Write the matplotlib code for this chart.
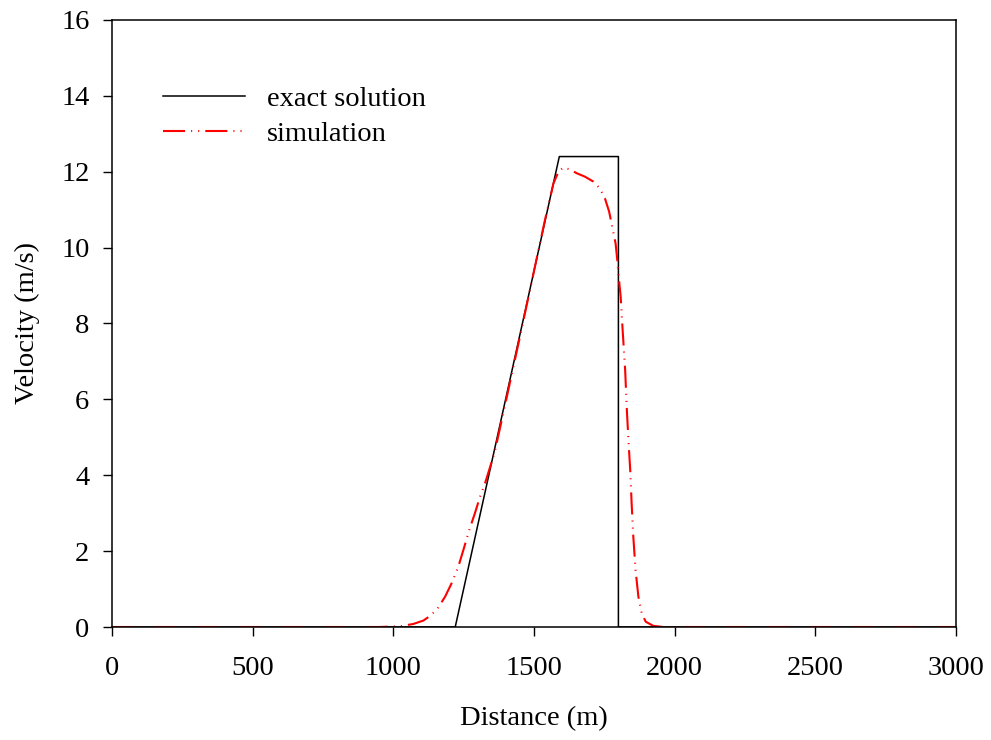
import matplotlib
matplotlib.use("Agg")
import matplotlib.pyplot as plt

plt.rcParams['font.family'] = ['Liberation Serif', 'DejaVu Serif']

# exact solution (piecewise linear)
exact_x = [0, 1220, 1590, 1800, 1800, 3000]
exact_v = [0, 0, 12.4, 12.4, 0, 0]

# simulation
sim_x = [0, 950, 1024, 1071, 1107, 1130, 1156, 1184, 1207, 1231, 1249, 1270, 1290,
         1308, 1326, 1360, 1400, 1450, 1497, 1539, 1569, 1587, 1604, 1628, 1652,
         1681, 1711, 1734, 1752, 1767, 1778, 1790, 1796, 1801, 1808, 1815, 1824,
         1830, 1837, 1842, 1847, 1853, 1861, 1871, 1883, 1897, 1924, 1960, 3000]
sim_v = [0, 0, 0.02, 0.08, 0.17, 0.29, 0.47, 0.80, 1.15, 1.59, 2.03, 2.56, 3.00,
         3.43, 3.79, 4.60, 5.95, 7.65, 9.28, 10.73, 11.69, 12.00, 12.11, 12.06, 11.96,
         11.87, 11.74, 11.56, 11.30, 10.95, 10.55, 10.11, 9.67, 9.23, 8.71, 7.83, 6.77,
         5.72, 4.75, 4.14, 3.26, 2.38, 1.50, 0.80, 0.36, 0.14, 0.03, 0, 0]

fig = plt.figure(figsize=(9.91, 7.40), dpi=100)
ax = fig.add_axes([0.113, 0.1527, 0.8517, 0.8203])

ax.plot(exact_x, exact_v, color='black', lw=1.1, label='exact solution')
ax.plot(sim_x, sim_v, color='red', lw=1.5, label='simulation',
        dashes=(10.6, 2.9, 0.5, 2.9, 0.5, 2.9))

ax.set_xlim(0, 3000)
ax.set_ylim(0, 16)
ax.set_xticks(range(0, 3001, 500))
ax.set_yticks(range(0, 17, 2))
ax.tick_params(direction='out', length=6.7, width=1, labelsize=20.5,
               top=False, right=False)
ax.tick_params(axis='x', pad=14.5)
ax.tick_params(axis='y', pad=9.5)
for s in ax.spines.values():
    s.set_linewidth(1.1)

ax.set_xlabel('Distance (m)', fontsize=20.5, labelpad=18)
ax.set_ylabel('Velocity (m/s)', fontsize=20.5, labelpad=15)

ax.legend(loc='upper left', bbox_to_anchor=(0.0605, 0.891), frameon=False,
          fontsize=20.5, handlelength=2.88, handletextpad=0.77, labelspacing=0.32,
          borderpad=0, borderaxespad=0)

fig.savefig('out.png', dpi=100)
